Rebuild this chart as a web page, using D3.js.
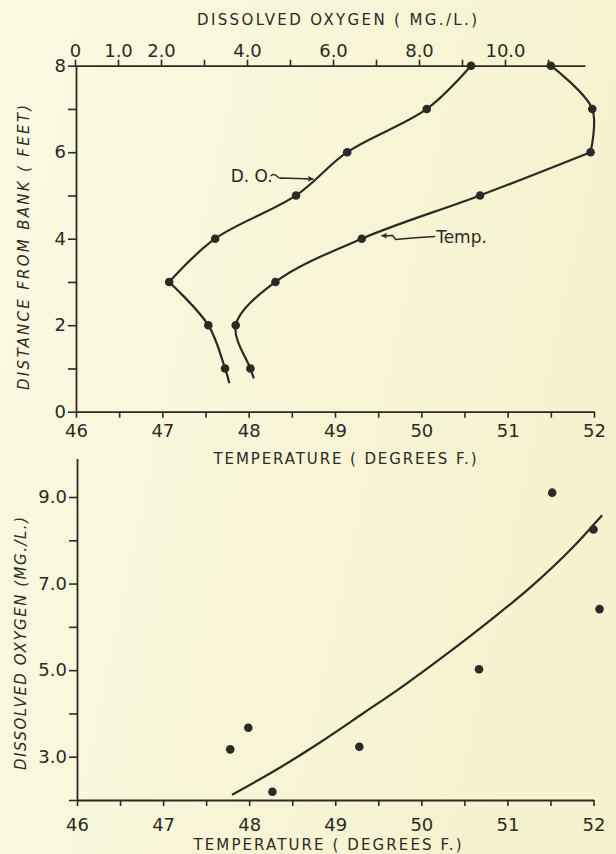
<!DOCTYPE html>
<html><head><meta charset="utf-8">
<script src="https://cdn.jsdelivr.net/npm/d3@7"></script>
<style>
html,body{margin:0;padding:0;background:#f9f7dc;}
svg{display:block;}
text{font-family:"DejaVu Sans",sans-serif;fill:#2b2a23;}
</style></head><body>
<svg id="c" width="616" height="854"></svg>
<script>
// ---------- DATA ----------
// Top chart: profile across the stream
const distanceFt      = [1, 2, 3, 4, 5, 6, 7, 8];
const tempAtDistance  = [48.02, 47.85, 48.31, 49.31, 50.68, 51.96, 51.98, 51.50];
const doAtDistance    = [3.49, 3.10, 2.19, 3.26, 5.14, 6.33, 8.18, 9.21];
const tempCurveTail   = [48.06, 0.77];   // end of drawn temp curve (temp, ft)
const doCurveTail     = [3.59, 0.66];    // end of drawn D.O. curve (mg/l, ft)

// Bottom chart: D.O. vs temperature
const scatterTemp = [47.78, 47.99, 48.27, 49.28, 50.67, 51.52, 52.00, 52.07];
const scatterDO   = [3.17, 3.67, 2.19, 3.23, 5.02, 9.10, 8.25, 6.41];
const fitTemp = [47.8, 48.3, 48.8, 49.3, 49.8, 50.3, 50.8, 51.3, 51.8, 52.1];
const fitDO   = [2.12, 2.68, 3.30, 3.97, 4.65, 5.38, 6.15, 6.97, 7.92, 8.58];

// Tick values / labels
const tempTicks   = d3.range(46, 52.01, 0.5);
const tempLabels  = [46, 47, 48, 49, 50, 51, 52];
const distTicks   = d3.range(0, 9);
const distLabels  = [0, 2, 4, 6, 8];
const doTopTicks  = d3.range(0, 12);
const doTopLabels = [0, 1, 2, 4, 6, 8, 10];
const doBotTicks  = d3.range(2, 10);
const doBotLabels = [3, 5, 7, 9];

// ---------- DRAW ----------
const ink = "#2b2a23";
const svg = d3.select("#c");

const defs = svg.append("defs");
const bg = defs.append("linearGradient").attr("id","bg").attr("x1","0").attr("x2","1").attr("y1","0").attr("y2","0.3");
bg.append("stop").attr("offset","0").attr("stop-color","#fbfae3");
bg.append("stop").attr("offset","1").attr("stop-color","#f6f2cf");
svg.append("rect").attr("width",616).attr("height",854).attr("fill","url(#bg)");

defs.append("marker").attr("id","ah").attr("viewBox","0 0 10 10").attr("refX",9).attr("refY",5)
  .attr("markerWidth",7).attr("markerHeight",6).attr("markerUnits","userSpaceOnUse").attr("orient","auto")
  .append("path").attr("d","M0,0 L10,5 L0,10 L2,5 Z").attr("fill",ink);

// scales
const xT = d3.scaleLinear().domain([46,52]).range([76,594]);
const xD = d3.scaleLinear().domain([0,10]).range([75,505]);
const yF = d3.scaleLinear().domain([0,8]).range([411.7,65.7]);
const xB = d3.scaleLinear().domain([46,52]).range([77,593.5]);
const yB = d3.scaleLinear().domain([2,9]).range([800,497]);

function styleAxis(g, fs){
  g.select(".domain").attr("stroke",ink).attr("stroke-width",1.8);
  g.selectAll(".tick line").attr("stroke",ink).attr("stroke-width",1.6);
  g.selectAll(".tick text").attr("fill",ink).style("font-size",fs+"px").style("font-family","'DejaVu Sans',sans-serif");
}

// ----- top chart -----
const gTB = svg.append("g").attr("transform",`translate(0,${yF(0)})`)
  .call(d3.axisBottom(xT).tickValues(tempTicks).tickSize(6).tickSizeOuter(0).tickPadding(6.2)
    .tickFormat(d => tempLabels.includes(d) ? d : ""));
styleAxis(gTB,18);

const gTL = svg.append("g").attr("transform",`translate(${xT(46)},0)`)
  .call(d3.axisLeft(yF).tickValues(distTicks).tickSize(8).tickSizeOuter(0).tickPadding(2)
    .tickFormat(d => distLabels.includes(d) ? d : ""));
styleAxis(gTL,18);

const xDaxis = xD.copy().domain([0,11.86]).range([xD(0), xD(11.86)]);
const gTT = svg.append("g").attr("transform",`translate(0,${yF(8)})`)
  .call(d3.axisTop(xDaxis).tickValues(doTopTicks).tickSize(6).tickSizeOuter(0).tickPadding(3)
    .tickFormat(d => doTopLabels.includes(d) ? (d===0 ? "0" : d.toFixed(1)) : ""));
styleAxis(gTT,18);

const lineGen = (sx, sy) => d3.line().x(d => sx(d[0])).y(d => sy(d[1])).curve(d3.curveCatmullRom.alpha(0.5));

const tempPts = distanceFt.map((f,i) => [tempAtDistance[i], f]);
const doPts   = distanceFt.map((f,i) => [doAtDistance[i], f]);

const tempSegs = [[tempCurveTail, ...tempPts.slice(0,6)], tempPts.slice(5)];
const doSegs   = [[doCurveTail, ...doPts.slice(0,3)], doPts.slice(2)];

tempSegs.forEach(s => svg.append("path").attr("d", lineGen(xT,yF)(s))
  .attr("fill","none").attr("stroke",ink).attr("stroke-width",2.2));
doSegs.forEach(s => svg.append("path").attr("d", lineGen(xD,yF)(s))
  .attr("fill","none").attr("stroke",ink).attr("stroke-width",2.2));

svg.append("g").selectAll("circle").data(tempPts).join("circle")
  .attr("cx", d => xT(d[0])).attr("cy", d => yF(d[1])).attr("r",4.3).attr("fill",ink);
svg.append("g").selectAll("circle").data(doPts).join("circle")
  .attr("cx", d => xD(d[0])).attr("cy", d => yF(d[1])).attr("r",4.3).attr("fill",ink);

// annotations
svg.append("text").attr("x", xD(4.11)).attr("y", yF(5.46)+6).attr("text-anchor","middle")
  .style("font-size","17px").text("D. O.");
{
  const x0 = xD(4.55), y0 = yF(5.45);
  const tip = [xD(5.54), yF(5.38)];
  svg.append("path")
    .attr("d", `M${x0},${y0} q3,-3 6,0 t4,2 L${tip[0]},${tip[1]}`)
    .attr("fill","none").attr("stroke",ink).attr("stroke-width",1.5).attr("marker-end","url(#ah)");
}
svg.append("text").attr("x", xT(50.16)+1).attr("y", yF(4.05)+6)
  .style("font-size","17px").text("Temp.");
{
  const x0 = xT(50.16), y0 = yF(4.05);
  const tip = [xT(49.54), yF(4.07)];
  svg.append("path")
    .attr("d", `M${x0},${y0} Q${x0-20},${y0+1} ${tip[0]+14},${y0+3} l-3,-4 L${tip[0]},${tip[1]}`)
    .attr("fill","none").attr("stroke",ink).attr("stroke-width",1.5).attr("marker-end","url(#ah)");
}

// titles (top chart)
svg.append("text").attr("x",337).attr("y",24.5).attr("text-anchor","middle")
  .attr("textLength",280).attr("lengthAdjust","spacing").style("font-size","15px")
  .text("DISSOLVED  OXYGEN ( MG./L.)");
svg.append("text").attr("x",345).attr("y",463.5).attr("text-anchor","middle")
  .attr("textLength",263).attr("lengthAdjust","spacing").style("font-size","15px")
  .text("TEMPERATURE ( DEGREES F.)");
svg.append("text").attr("transform","translate(29,247.5) rotate(-90)").attr("text-anchor","middle")
  .attr("textLength",285).attr("lengthAdjust","spacing").style("font-size","15px").style("font-style","italic")
  .text("DISTANCE  FROM  BANK  ( FEET)");

// ----- bottom chart -----
const gBB = svg.append("g").attr("transform",`translate(0,${yB(2)})`)
  .call(d3.axisBottom(xB).tickValues(tempTicks).tickSize(6).tickSizeOuter(0).tickPadding(11.9)
    .tickFormat(d => tempLabels.includes(d) ? d : ""));
styleAxis(gBB,18);

const yBaxis = yB.copy().domain([2,9.89]).range([yB(2), yB(9.89)]);
const gBL = svg.append("g").attr("transform",`translate(${xB(46)},0)`)
  .call(d3.axisLeft(yBaxis).tickValues(doBotTicks).tickSize(8).tickSizeOuter(0).tickPadding(2)
    .tickFormat(d => doBotLabels.includes(d) ? d.toFixed(1) : ""));
styleAxis(gBL,18);

svg.append("path")
  .attr("d", d3.line().x(d => xB(d[0])).y(d => yB(d[1])).curve(d3.curveMonotoneX)(fitTemp.map((t,i)=>[t,fitDO[i]])))
  .attr("fill","none").attr("stroke",ink).attr("stroke-width",2.2);

svg.append("g").selectAll("circle").data(scatterTemp.map((t,i)=>[t,scatterDO[i]])).join("circle")
  .attr("cx", d => xB(d[0])).attr("cy", d => yB(d[1])).attr("r",4.3).attr("fill",ink);

svg.append("text").attr("x",327.5).attr("y",850).attr("text-anchor","middle")
  .attr("textLength",268).attr("lengthAdjust","spacing").style("font-size","15px")
  .text("TEMPERATURE ( DEGREES F.)");
svg.append("text").attr("transform","translate(26,643.5) rotate(-90)").attr("text-anchor","middle")
  .attr("textLength",253).attr("lengthAdjust","spacing").style("font-size","15px").style("font-style","italic")
  .text("DISSOLVED  OXYGEN (MG./L.)");
</script>
</body></html>
